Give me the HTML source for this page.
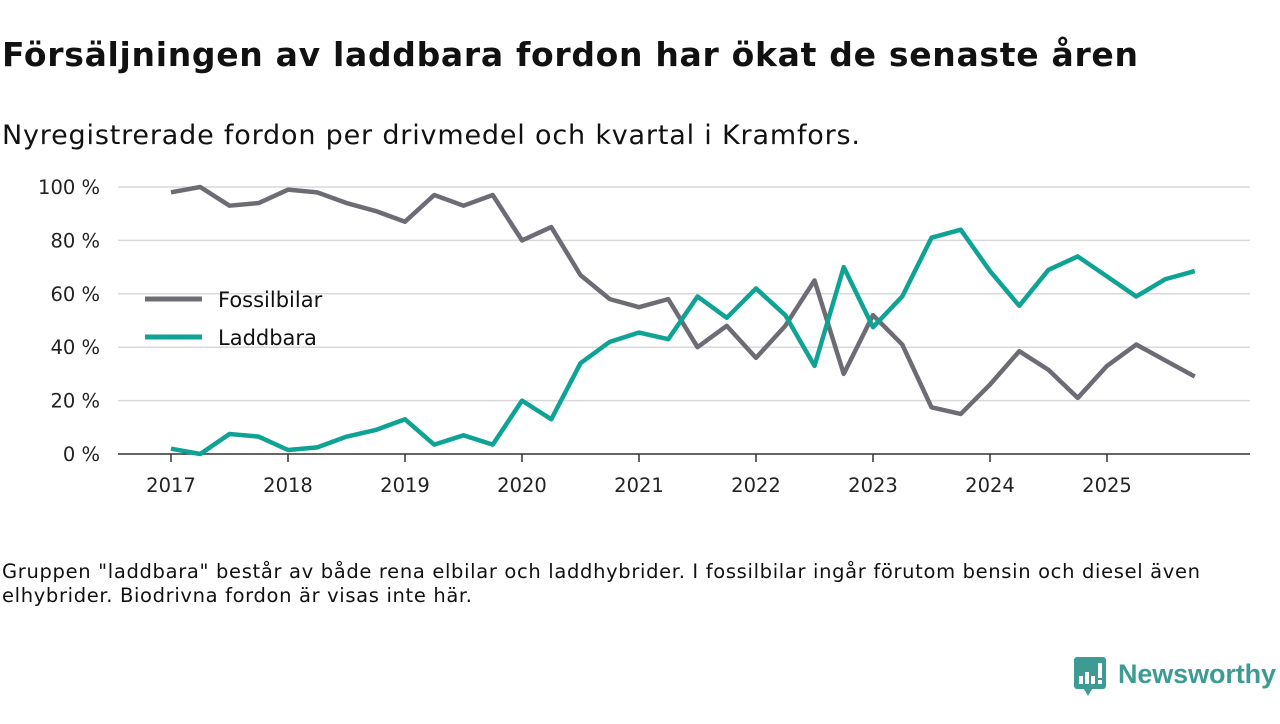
<!DOCTYPE html>
<html><head><meta charset="utf-8"><style>
body{margin:0;width:1280px;height:720px;background:#fff;overflow:hidden;font-family:"DejaVu Sans","Liberation Sans",sans-serif;color:#111}
</style></head><body>
<svg width="1280" height="720" xmlns="http://www.w3.org/2000/svg">
<text x="2" y="66" font-size="33" font-weight="bold" fill="#111" textLength="1136">Försäljningen av laddbara fordon har ökat de senaste åren</text>
<text x="2" y="144" font-size="27" fill="#111" textLength="858">Nyregistrerade fordon per drivmedel och kvartal i Kramfors.</text>
<g id="grid"></g>
<g id="ylab"></g>
<g id="xlab"></g>
<g id="lines"></g>
<g>
<line x1="145" y1="299" x2="202" y2="299" stroke="#6d6c74" stroke-width="5"/>
<text x="218" y="307" font-size="21" fill="#111">Fossilbilar</text>
<line x1="145" y1="337" x2="202" y2="337" stroke="#0ea394" stroke-width="5"/>
<text x="218" y="345" font-size="21" fill="#111">Laddbara</text>
</g>
<text x="2" y="578" font-size="19.5" fill="#111" textLength="1198">Gruppen "laddbara" består av både rena elbilar och laddhybrider. I fossilbilar ingår förutom bensin och diesel även</text>
<text x="2" y="602" font-size="19.5" fill="#111" textLength="470">elhybrider. Biodrivna fordon är visas inte här.</text>
<g>
<rect x="1074" y="657" width="32" height="32" rx="3" fill="#3d9b93"/>
<path d="M1084 689 L1088 696 L1092 689Z" fill="#3d9b93"/>
<rect x="1079" y="676" width="4" height="8" fill="#fff"/><rect x="1085" y="672" width="4" height="12" fill="#fff"/><rect x="1091" y="676" width="4" height="8" fill="#fff"/><rect x="1098" y="663" width="4" height="15" fill="#fff"/><rect x="1098" y="680" width="4" height="4" fill="#fff"/>
<text x="1118" y="683" font-size="27" font-weight="bold" fill="#3d9b93" font-family="Liberation Sans, sans-serif" textLength="158">Newsworthy</text>
</g>
</svg>
<script>
const years=["2017","2018","2019","2020","2021","2022","2023","2024","2025"];
const yTicks=[0,20,40,60,80,100];
const fossil=[98,100,93,94,99,98,94,91,87,97,93,97,80,85,67,58,55,58,40,48,36,48,65,30,52,41,17.5,15,26,38.5,31.5,21,33,41,35,29];
const laddbara=[2,0,7.5,6.5,1.5,2.5,6.5,9,13,3.5,7,3.5,20,13,34,42,45.5,43,59,51,62,52,33,70,47.5,59,81,84,68.5,55.5,69,74,66.5,59,65.5,68.5];
const NS="http://www.w3.org/2000/svg";
const x=i=>171+i*117/4, y=v=>454-v*2.67;
const grid=document.getElementById('grid'),yl=document.getElementById('ylab'),xl=document.getElementById('xlab'),ln=document.getElementById('lines');
function mk(tag,at,p){const e=document.createElementNS(NS,tag);for(const k in at)e.setAttribute(k,at[k]);p.appendChild(e);return e;}
yTicks.forEach(t=>{
  if(t>0){const g=mk('line',{x1:118,x2:1250,y1:y(t),y2:y(t),stroke:'#d9d9d9','stroke-width':1.5},grid);
  
  }
  const tx=mk('text',{x:100,y:y(t)+7,'font-size':19.5,'text-anchor':'end',fill:'#222'},yl);tx.textContent=t+' %';
  
  
});
const ax=mk('line',{x1:118,x2:1250,y1:454,y2:454,stroke:'#333','stroke-width':1.5},grid);


years.forEach((yr,i)=>{
  const xx=x(i*4);
  const tk=mk('line',{x1:xx,x2:xx,y1:454,y2:462,stroke:'#333','stroke-width':1.5},grid);
  
  
  const t=mk('text',{x:xx,y:492,'font-size':19.5,'text-anchor':'middle',fill:'#222'},xl);t.textContent=yr;
  
  
});
function line(d,c,name){const p=mk('polyline',{points:d.map((v,i)=>x(i)+','+y(v)).join(' '),fill:'none',stroke:c,'stroke-width':4.5,'stroke-linejoin':'round'},ln);
  
  }
line(fossil,'#6d6c74','line-fossilbilar');
line(laddbara,'#0ea394','line-laddbara');
</script>
</body></html>
